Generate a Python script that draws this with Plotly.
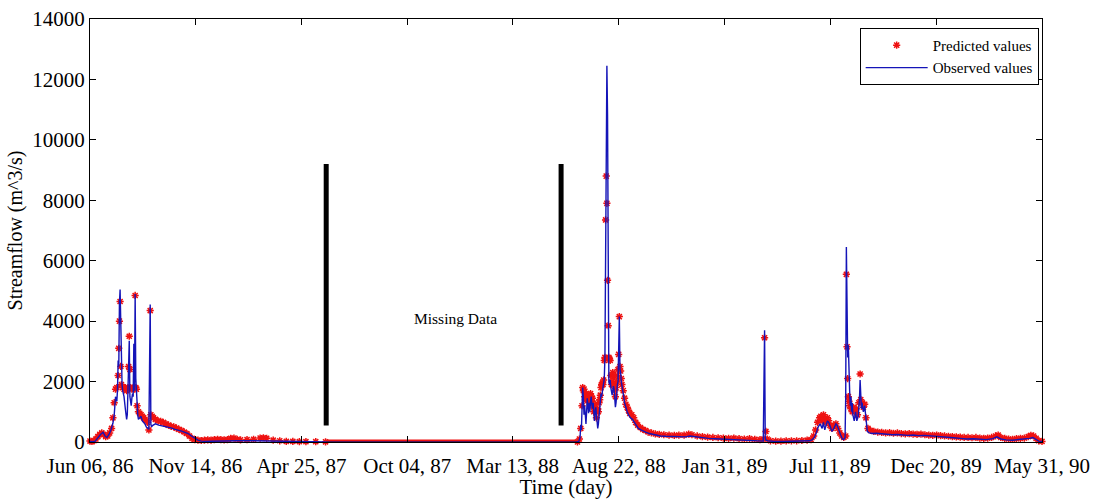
import pandas as pd
import plotly.graph_objects as go

# ---------------- data (days since Jun 06, 1986 ; streamflow m^3/s) ----------------
start_date = "1986-06-06"

obs_days = [0, 4, 8, 12, 16, 20, 23, 26, 29, 32, 35, 37, 39, 41, 42, 43, 44, 45, 46, 47, 48, 49, 50, 52, 54, 56,
            57, 58, 59, 60, 61, 62, 63, 64, 65, 66, 67, 68, 69, 70, 71, 72, 73, 74, 76, 78, 80, 82, 84, 86, 88,
            90, 91, 92, 93, 94, 96, 100, 105, 110, 115, 120, 125, 130, 135, 140, 145, 150, 155, 160, 165, 170,
            175, 185, 200, 215, 225, 240, 255, 265, 275, 290, 305, 320, 340, 361,
            744, 747, 749, 750, 751, 752, 753, 754, 755, 756, 757, 758, 759, 760, 761, 762, 763, 764, 765, 766,
            767, 768, 769, 770, 771, 772, 773, 774, 775, 776, 777, 778, 779, 780, 781, 782, 783, 784, 785, 786,
            787, 788, 789, 790, 791, 792, 793, 794, 795, 796, 797, 798, 799, 800, 801, 802, 803, 804, 805, 806,
            807, 808, 809, 810, 811, 812, 813, 815, 817, 819, 821, 823, 826, 829, 832, 835, 838, 842, 846, 850,
            855, 860, 866, 872, 880, 890, 900, 910, 917, 925, 935, 945, 955, 965, 975, 985, 995, 1005, 1015,
            1022, 1026, 1029, 1030, 1031, 1032, 1033, 1036, 1045, 1060, 1075, 1090, 1100, 1104, 1107, 1110,
            1113, 1116, 1119, 1121, 1123, 1125, 1127, 1129, 1131, 1134, 1137, 1140, 1142, 1144, 1147, 1150,
            1152, 1154, 1155, 1156, 1157, 1158, 1159, 1160, 1161, 1162, 1163, 1164, 1165, 1166, 1168, 1170,
            1172, 1174, 1176, 1177, 1178, 1179, 1180, 1182, 1184, 1186, 1188, 1191, 1196, 1202, 1210, 1218,
            1226, 1234, 1242, 1250, 1258, 1266, 1275, 1284, 1292, 1300, 1310, 1320, 1330, 1340, 1350, 1360,
            1370, 1380, 1386, 1392, 1400, 1410, 1420, 1430, 1436, 1441, 1446, 1450, 1455]
obs_vals = [20, 10, 30, 150, 250, 320, 200, 150, 250, 400, 620, 900, 1500, 1350, 1700, 2700, 2500, 4600, 5050,
            4000, 2000, 1900, 1700, 1500, 1100, 750, 900, 1800, 2200, 3350, 1500, 1300, 1200, 1450, 1600, 1500,
            3250, 1700, 4900, 2100, 1600, 1300, 900, 750, 800, 850, 700, 650, 600, 500, 450, 420, 2450, 4550,
            600, 500, 550, 600, 560, 540, 500, 480, 460, 420, 400, 360, 320, 280, 200, 120, 60, 30, 20, 25, 40,
            50, 40, 45, 40, 50, 30, 20, 15, 10, 5, 0,
            0, 20, 150, 560, 400, 1300, 1800, 1500, 900, 1200, 700, 600, 1000, 1450, 1200, 950, 1300, 1000,
            1350, 1500, 1250, 1100, 1300, 900, 700, 1000, 1150, 900, 700, 450, 600, 800, 1000, 1400, 1600, 1500,
            1700, 1850, 2000, 2100, 2800, 7300, 11000, 12450, 10800, 3000, 2000, 1900, 2050, 1800, 1600, 1550,
            1700, 1850, 1750, 1400, 1150, 1300, 1700, 1900, 2000, 3100, 4150, 2400, 2300, 2000, 1900, 1600,
            1300, 1100, 1000, 900, 800, 750, 650, 520, 450, 400, 350, 320, 280, 250, 220, 200, 190, 180, 180,
            170, 200, 170, 140, 120, 110, 100, 90, 80, 80, 70, 60, 50, 40, 30, 1850, 3700, 150, 60, 40, 20, 15,
            20, 25, 40, 80, 150, 300, 500, 600, 450, 650, 400, 550, 700, 650, 500, 350, 450, 600, 550, 400, 250,
            100, 80, 150, 1500, 6450, 4600, 2800, 3200, 2000, 1700, 1200, 1500, 1000, 1300, 900, 700, 1000, 700,
            850, 1400, 2050, 1500, 1100, 1300, 1000, 1200, 700, 350, 300, 280, 290, 270, 260, 240, 250, 230,
            220, 230, 210, 220, 200, 180, 170, 150, 140, 120, 100, 110, 90, 80, 110, 170, 100, 70, 60, 80, 90,
            120, 150, 80, 30, 20]

pred_days = [0, 3, 6, 9, 12, 15, 18, 21, 24, 27, 30, 33, 35, 37, 39, 41, 43, 44, 45, 46, 47, 48, 50, 52, 54, 56,
             58, 59, 60, 61, 62, 64, 66, 68, 69, 70, 71, 72, 74, 76, 78, 80, 82, 84, 86, 88, 90, 92, 93, 95, 97,
             100, 104, 108, 112, 116, 120, 124, 128, 132, 136, 140, 144, 148, 152, 156, 160, 165, 170, 175, 180,
             185, 190, 195, 200, 205, 210, 215, 220, 225, 230, 240, 250, 260, 265, 270, 280, 290, 300, 310, 320,
             330, 345, 360,
             745, 748, 750, 752, 753, 754, 755, 756, 757, 758, 759, 760, 761, 762, 763, 764, 765, 766, 767, 768,
             769, 770, 771, 772, 773, 774, 775, 776, 777, 778, 779, 780, 781, 782, 783, 784, 785, 786, 787, 788,
             789, 790, 791, 792, 793, 794, 795, 796, 797, 798, 799, 800, 801, 802, 803, 804, 805, 806, 807, 808,
             809, 810, 811, 812, 813, 815, 817, 819, 821, 823, 825, 828, 831, 834, 837, 841, 845, 849, 853, 858,
             864, 870, 877, 885, 893, 900, 908, 915, 920, 928, 936, 944, 952, 960, 968, 976, 984, 992, 1000,
             1008, 1016, 1024, 1030, 1031, 1033, 1035, 1040, 1048, 1056, 1064, 1072, 1080, 1088, 1096, 1102,
             1106, 1109, 1112, 1115, 1117, 1119, 1121, 1123, 1125, 1127, 1129, 1131, 1134, 1137, 1140, 1143,
             1146, 1149, 1152, 1155, 1156, 1157, 1158, 1159, 1160, 1161, 1163, 1165, 1167, 1169, 1171, 1173,
             1175, 1177, 1178, 1180, 1182, 1184, 1186, 1189, 1193, 1198, 1204, 1210, 1216, 1222, 1228, 1234,
             1240, 1246, 1252, 1258, 1264, 1270, 1276, 1282, 1288, 1294, 1300, 1306, 1312, 1318, 1324, 1330,
             1336, 1342, 1348, 1354, 1360, 1366, 1372, 1378, 1384, 1388, 1392, 1398, 1404, 1410, 1416, 1422,
             1428, 1434, 1438, 1442, 1446, 1450, 1455]
pred_vals = [30, 20, 40, 100, 180, 250, 300, 250, 180, 200, 300, 450, 800, 1300, 1750, 1800, 2200, 3100, 4000,
             4650, 2500, 1900, 1800, 1750, 1800, 1700, 1800, 2500, 3500, 2400, 1800, 1750, 1800, 1750, 4850, 1800,
             1750, 1200, 1000, 950, 900, 850, 800, 750, 700, 650, 400, 4350, 900, 850, 800, 750, 700, 680, 650,
             600, 560, 520, 500, 460, 420, 380, 330, 280, 200, 120, 80, 60, 50, 60, 70, 60, 80, 90, 80, 70, 80,
             120, 130, 90, 70, 80, 90, 130, 140, 120, 60, 40, 20, 20, 15, 10, 10, 5,
             0, 100, 450, 1200, 1800, 1700, 1750, 1500, 1400, 1600, 1500, 1400, 1550, 1450, 1300, 1550, 1600,
             1500, 1350, 1450, 1200, 1000, 1100, 1250, 1000, 800, 1050, 1100, 1000, 1300, 1400, 1550, 1800, 1900,
             1950, 1900, 2050, 2700, 2800, 7350, 8800, 7900, 5350, 3850, 2800, 2750, 2700, 2200, 1900, 2000, 2300,
             2150, 1900, 1700, 1500, 1800, 2000, 2200, 2400, 2900, 4150, 2500, 2350, 2100, 1900, 1700, 1450, 1250,
             1150, 1050, 950, 900, 800, 650, 560, 480, 420, 380, 330, 300, 270, 250, 240, 230, 220, 230, 230, 260,
             240, 200, 180, 160, 150, 140, 130, 120, 130, 110, 100, 110, 90, 80, 100, 3450, 350, 100, 40, 30, 30,
             35, 40, 40, 50, 60, 80, 200, 400, 650, 800, 850, 700, 900, 750, 650, 800, 700, 550, 450, 550, 600,
             450, 300, 200, 150, 200, 5550, 3150, 2100, 1500, 1350, 1200, 1100, 1000, 1150, 1000, 1100, 900, 1300,
             2250, 1400, 1300, 1150, 1250, 800, 450, 380, 350, 330, 320, 300, 310, 290, 300, 280, 270, 280, 260,
             250, 260, 240, 230, 220, 230, 210, 200, 190, 180, 170, 160, 150, 150, 140, 150, 130, 120, 130, 150,
             200, 230, 150, 120, 100, 90, 110, 120, 130, 180, 220, 200, 120, 40, 20]

# Missing-data period (values shown as zero)
missing_days = [361, 744]
missing_vals = [0, 0]
missing_start = "1987-06-02"
missing_end = "1988-05-26"
bar_bottom = 550
bar_top = 9200
missing_label_date = "1987-12-16"
missing_label_value = 4100

tick_dates = ["1986-06-06", "1986-11-14", "1987-04-25", "1987-10-04", "1988-03-13",
              "1988-08-22", "1989-01-31", "1989-07-11", "1989-12-20", "1990-05-31"]
tick_labels = ["Jun 06, 86", "Nov 14, 86", "Apr 25, 87", "Oct 04, 87", "Mar 13, 88",
               "Aug 22, 88", "Jan 31, 89", "Jul 11, 89", "Dec 20, 89", "May 31, 90"]
y_ticks = [0, 2000, 4000, 6000, 8000, 10000, 12000, 14000]
y_tick_labels = ["0", "2000", "4000", "6000", "8000", "10000", "12000", "14000"]

# ---------------- figure ----------------
base = pd.Timestamp(start_date)
to_dates = lambda d: [base + pd.Timedelta(days=int(v)) for v in d]

FONT = "Liberation Serif, Times New Roman, serif"
RED = "#ee1111"
BLUE = "#1414b8"

fig = go.Figure()
fig.add_trace(go.Scatter(
    x=to_dates(missing_days), y=missing_vals, mode="lines",
    line=dict(color=RED, width=5), showlegend=False, hoverinfo="skip", cliponaxis=False))
fig.add_trace(go.Scatter(
    x=to_dates(pred_days), y=pred_vals, mode="markers", name="Predicted values",
    marker=dict(symbol="asterisk-open", size=6, color=RED, line=dict(color=RED, width=1.5)),
    cliponaxis=False))
fig.add_trace(go.Scatter(
    x=to_dates(obs_days), y=obs_vals, mode="lines", name="Observed values",
    line=dict(color=BLUE, width=1.4)))
fig.add_trace(go.Scatter(
    x=to_dates(missing_days), y=missing_vals, mode="lines",
    line=dict(color="#5a1020", width=1), showlegend=False, hoverinfo="skip"))

for d in (missing_start, missing_end):
    fig.add_shape(type="line", xref="x", yref="y", x0=d, x1=d, y0=bar_bottom, y1=bar_top,
                  line=dict(color="black", width=5))

fig.add_annotation(x=missing_label_date, y=missing_label_value, xref="x", yref="y",
                   text="Missing Data", showarrow=False,
                   font=dict(family=FONT, size=15.5, color="black"))

fig.update_layout(
    width=1093, height=499,
    margin=dict(l=90, r=51, t=19, b=57, autoexpand=False),
    paper_bgcolor="white", plot_bgcolor="white",
    font=dict(family=FONT, size=20, color="black"),
    showlegend=True,
    legend=dict(x=0.9965, y=0.979, xanchor="right", yanchor="top",
                bgcolor="white", bordercolor="black", borderwidth=1,
                font=dict(family=FONT, size=15, color="black"),
                tracegroupgap=0, itemwidth=62),
)
fig.update_xaxes(
    type="date", range=[tick_dates[0], tick_dates[-1]],
    tickvals=tick_dates, ticktext=tick_labels, automargin=False,
    showgrid=False, zeroline=False, showline=True, linecolor="black", linewidth=1,
    mirror="ticks", ticks="inside", ticklen=6, tickcolor="black", ticklabelstandoff=5,
    title=dict(text="Time (day)", standoff=0, font=dict(family=FONT, size=21, color="black")),
    tickfont=dict(family=FONT, size=21, color="black"),
)
fig.update_yaxes(
    range=[0, 14000], tickvals=y_ticks, ticktext=y_tick_labels, automargin=False,
    showgrid=False, zeroline=False, showline=True, linecolor="black", linewidth=1,
    mirror="ticks", ticks="inside", ticklen=6, tickcolor="black",
    title=dict(text="Streamflow (m^3/s)", standoff=4, font=dict(family=FONT, size=20, color="black")),
    tickfont=dict(family=FONT, size=21, color="black"),
)

fig.write_html("out.html", config={"displayModeBar": False},
               post_script="document.body.style.margin='0';document.body.style.overflow='hidden';")
